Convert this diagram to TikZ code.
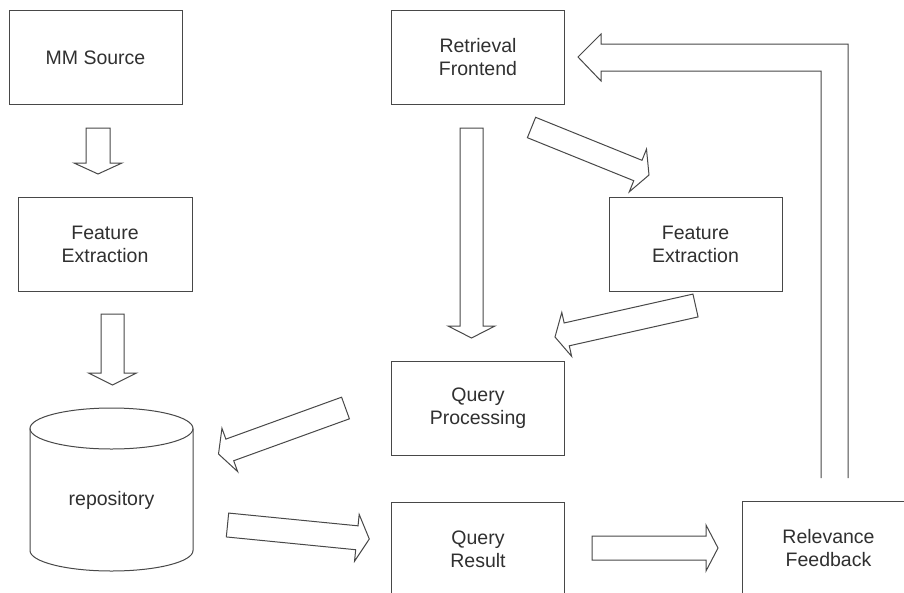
\documentclass[tikz,border=0pt]{standalone}
\usepackage{fontspec}
\setmainfont{Liberation Sans}
\usetikzlibrary{calc}
\definecolor{edge}{HTML}{484848}
\definecolor{txt}{HTML}{303030}
\tikzset{
  lbl/.style={text=txt, font=\fontsize{19.5}{23}\selectfont, align=center, inner sep=0pt},
  box/.style={lbl, draw=edge, line width=1pt, minimum width=173pt, minimum height=94pt},
  blockarrow/.style={draw=edge, line width=1pt, fill=white, line join=miter},
}
% tail, tip, shaft half width, head half width, head length
\newcommand\barrow[5]{%
  \coordinate (ba-b) at ($(#2)!#5!(#1)$);
  \draw[blockarrow] ($(#1)!#3!90:(#2)$) -- ($(ba-b)!#3!-90:(#1)$) -- ($(ba-b)!#4!-90:(#1)$)
    -- (#2) -- ($(ba-b)!#4!90:(#1)$) -- ($(ba-b)!#3!90:(#1)$) -- ($(#1)!#3!-90:(#2)$) -- cycle;
}
\begin{document}
\begin{tikzpicture}[x=1pt,y=-1pt]
\useasboundingbox (0,0) rectangle (904,592);
\clip (0,0) rectangle (904,592);
\fill[white] (0,0) rectangle (904,592);

% boxes
\node[box] (mm)  at (95.5,57.5) {MM Source};
\node[box, minimum width=174pt] (fe1) at (105,244) {Feature\\Extraction};
\node[box] (rf)  at (478,57.5) {Retrieval\\Frontend};
\node[box] (fe2) at (695.5,244) {Feature\\Extraction};
\node[box] (qp)  at (478,408) {Query\\Processing};
\node[box] (qr)  at (478,549) {Query\\Result};
\node[box] (rel) at (828.5,548) {Relevance\\Feedback};

% repository cylinder
\coordinate (cylTL) at (30,428.5);
\coordinate (cylTR) at (193,428.5);
\coordinate (cylBL) at (30,550.5);
\coordinate (cylBR) at (193,550.5);
\draw[edge, line width=1pt] (111.5,428.5) ellipse [x radius=81.5pt, y radius=20.5pt];
\draw[edge, line width=1pt] (cylTL) -- (cylBL) arc[start angle=180, end angle=360, x radius=81.5pt, y radius=20.5pt] -- (cylTR);
\node[lbl] (repo) at (111.5,500) {repository};

% block arrows
\coordinate (a1t) at (98,128);   \coordinate (a1h) at (98,174);
\barrow{a1t}{a1h}{12pt}{24pt}{11pt}
\coordinate (a2t) at (112.5,314); \coordinate (a2h) at (112.5,385);
\barrow{a2t}{a2h}{11.5pt}{24pt}{12pt}
\coordinate (a3t) at (471.5,128); \coordinate (a3h) at (471.5,338);
\barrow{a3t}{a3h}{11.5pt}{23.5pt}{12pt}
\coordinate (a4t) at (531.5,127.5); \coordinate (a4h) at (649,175);
\barrow{a4t}{a4h}{11pt}{23pt}{12pt}
\coordinate (a5t) at (695.5,305.5); \coordinate (a5h) at (555,337);
\barrow{a5t}{a5h}{11.7pt}{22.5pt}{12pt}
\coordinate (a6t) at (345.5,408); \coordinate (a6h) at (218.5,454);
\barrow{a6t}{a6h}{11.5pt}{23pt}{12pt}
\coordinate (a7t) at (227.5,525); \coordinate (a7h) at (369.3,539);
\barrow{a7t}{a7h}{12pt}{23.5pt}{12.5pt}
\coordinate (a8t) at (592,548); \coordinate (a8h) at (718,548);
\barrow{a8t}{a8h}{12pt}{23pt}{12pt}

% feedback arrow (open at bottom)
\coordinate (fbL) at (821,478);
\coordinate (fbR) at (848,478);
\coordinate (fbtip) at (578,57);
\draw[blockarrow, fill=none] (fbR) -- (848,44) -- (601,44) -- (601,34) -- (fbtip)
  -- (601,81) -- (601,71) -- (821,71) -- (fbL);
\end{tikzpicture}
\end{document}
